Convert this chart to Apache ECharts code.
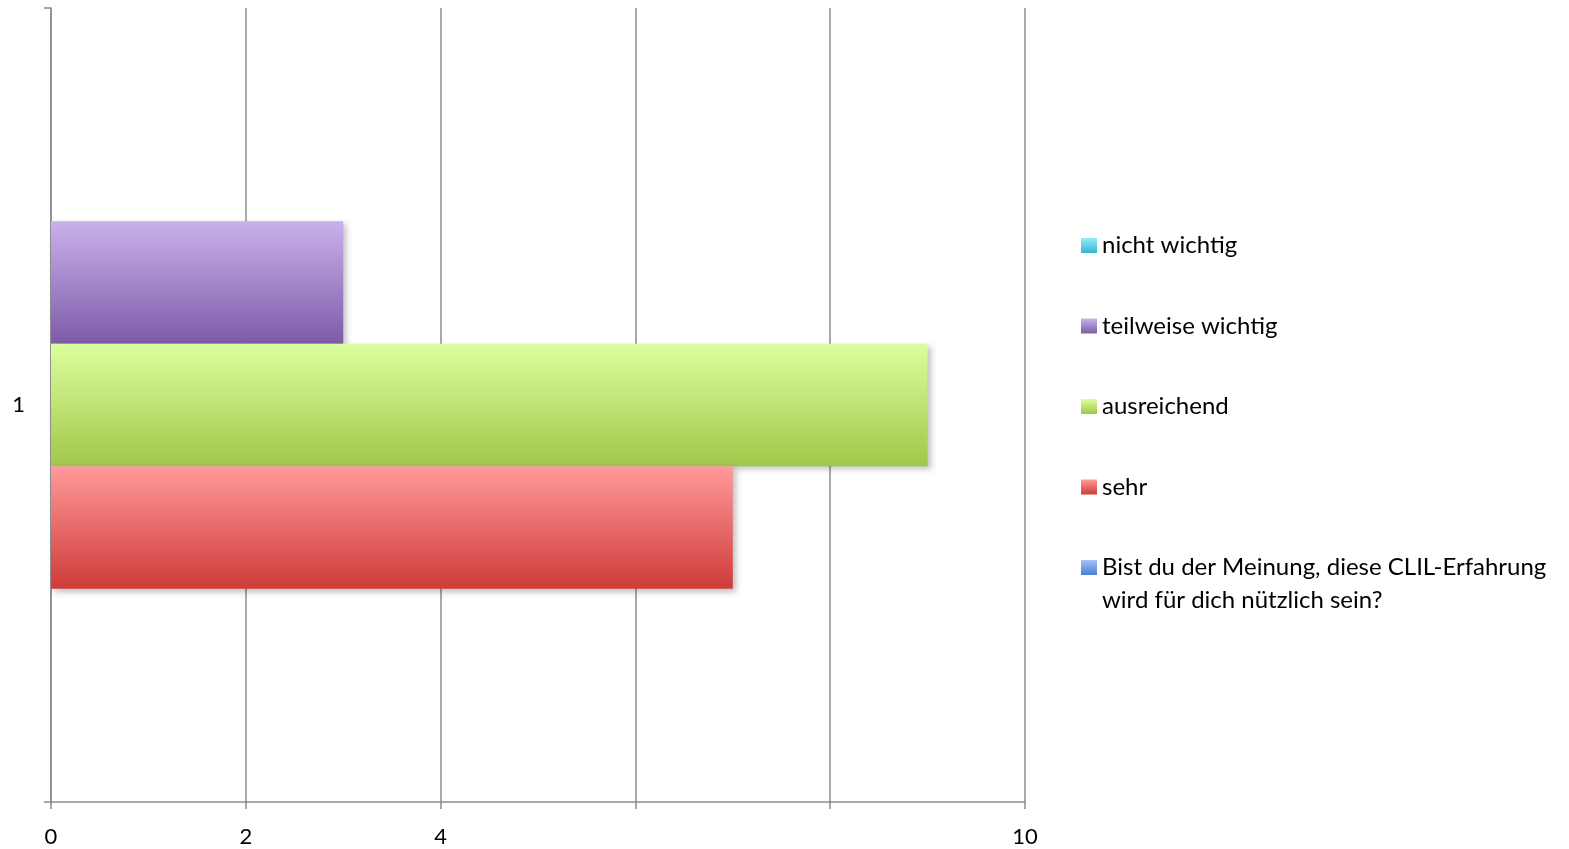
<!DOCTYPE html>
<html><head><meta charset="utf-8">
<script src="https://cdn.jsdelivr.net/npm/echarts@6/dist/echarts.min.js"></script>
<style>html,body{margin:0;padding:0;background:#fff}#c{width:1569px;height:849px}</style>
</head><body><div id="c"></div>
<script>
const categories = ['1'];
const seriesNames = ['nicht wichtig', 'teilweise wichtig', 'ausreichend', 'sehr', 'Bist du der Meinung, diese CLIL-Erfahrung wird für dich nützlich sein?'];
const valNichtWichtig = [0];
const valTeilweise = [3];
const valAusreichend = [9];
const valSehr = [7];
const valBist = [0];
const xTicks = [0, 2, 4, 6, 8, 10];
const xTickLabels = ['0', '2', '4', '', '', '10'];

const grads = {
  'nicht wichtig': ['#92ecfa', '#34b4cf'],
  'teilweise wichtig': ['#c9b1eb', '#7e5ba8'],
  'ausreichend': ['#dbff9e', '#9fc84a'],
  'sehr': ['#ff9a9a', '#cf3b39'],
  'Bist du der Meinung, diese CLIL-Erfahrung wird für dich nützlich sein?': ['#a3c4fa', '#4a7dd0']
};
function grad(n){return new echarts.graphic.LinearGradient(0,0,0,1,[{offset:0,color:grads[n][0]},{offset:1,color:grads[n][1]}]);}
const values = [valNichtWichtig, valTeilweise, valAusreichend, valSehr, valBist];
const FONT = 'Lato';
const chart = echarts.init(document.getElementById('c'));
const order = [0,1,2,3,4];
chart.setOption({
  animation:false,
  textStyle:{fontFamily:FONT},
  grid:{left:51, right:544, top:8, bottom:47, containLabel:false},
  xAxis:{type:'value', min:0, max:10, interval:2,
    axisLine:{show:true, lineStyle:{color:'#8c8c8c', width:1.5}},
    axisTick:{show:true, length:7, lineStyle:{color:'#8c8c8c', width:1.5}},
    splitLine:{show:true, lineStyle:{color:'#8c8c8c', width:1.5}},
    axisLabel:{fontSize:22, color:'#000', fontFamily:FONT, margin:24,
      formatter:function(v){const i=xTicks.indexOf(v);return i>=0?xTickLabels[i]:'';}}
  },
  yAxis:{type:'category', data:categories,
    axisLine:{show:true, lineStyle:{color:'#8c8c8c', width:1.5}},
    axisTick:{show:true, length:7, lineStyle:{color:'#8c8c8c', width:1.5}},
    axisLabel:{fontSize:22, color:'#000', fontFamily:FONT, margin:26}
  },
  legend:[{
    orient:'vertical', left:1081, top:229, padding:0, itemGap:47.5,
    itemWidth:16, itemHeight:15, icon:'rect',
    data:seriesNames.slice(0,4),
    textStyle:{fontSize:24, lineHeight:33, color:'#000', fontFamily:FONT}
  },{
    orient:'vertical', left:1081, top:518, padding:0,
    itemWidth:16, itemHeight:15, icon:'rect',
    data:[seriesNames[4]],
    formatter:function(n){return ' \nBist du der Meinung, diese CLIL-Erfahrung\nwird für dich nützlich sein?';},
    textStyle:{fontSize:24, lineHeight:33, color:'#000', fontFamily:FONT}
  }],
  series: order.map(function(i){
    const n = seriesNames[i];
    return {name:n, type:'bar', data:values[i], barWidth:122.5, barGap:'0%',
      itemStyle:{color:grad(n), shadowColor:'rgba(0,0,0,0.25)', shadowBlur:6, shadowOffsetX:3, shadowOffsetY:3}};
  })
});
</script></body></html>
